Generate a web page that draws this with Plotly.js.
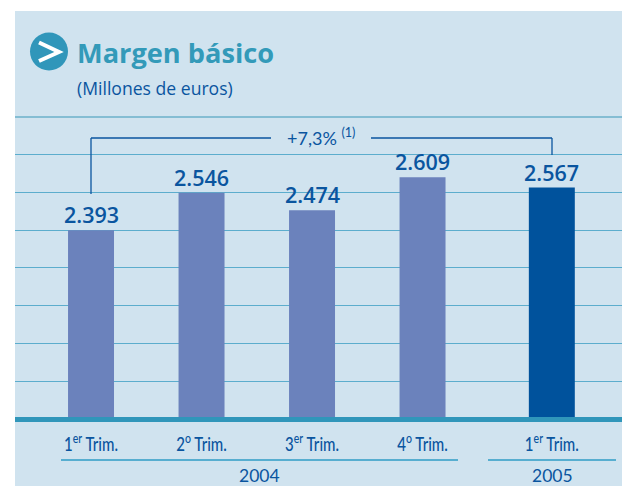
<!DOCTYPE html>
<html><head><meta charset="utf-8">
<script src="https://cdn.plot.ly/plotly-3.0.1.min.js"></script>
<style>html,body{margin:0;padding:0;background:#fff}#c{width:622px;height:486px}</style>
</head><body><div id="c"></div>
<script>
const categories = ["1<sup>er</sup> Trim.","2<sup>o</sup> Trim.","3<sup>er</sup> Trim.","4<sup>o</sup> Trim.","1<sup>er</sup> Trim."];
const values = [2393,2546,2474,2609,2567];
const valueLabels = ["2.393","2.546","2.474","2.609","2.567"];
const slots = [0,1,2,3,4.17];
const barColors = ["#6b82bc","#6b82bc","#6b82bc","#6b82bc","#00529c"];
const growth = "+7,3% <sup>(1)</sup>";
const title = "Margen básico", subtitle = "(Millones de euros)";
const years = ["2004","2005"];

const W=622,H=486,L=15,T=117,B=417;
const px=x=>(x-L)/(W-L), py=y=>(B-y)/(B-T);
const narrow='Lato,sans-serif';
const dark='#0a559f';
function seg(x0,y0,x1,y1,color,width){return {type:'line',xref:'paper',yref:'paper',x0:px(x0),y0:py(y0),x1:px(x1),y1:py(y1),line:{color,width}};}
function lab(x,y,text,size,color,family,anchor,extra){return Object.assign({xref:'paper',yref:'paper',x:px(x),y:py(y),text,showarrow:false,xanchor:anchor||'center',yanchor:'middle',font:{size,color,family}},extra||{});}

const shapes=[
 {type:'rect',layer:'below',xref:'paper',yref:'paper',x0:0,x1:1,y0:py(486),y1:py(11),fillcolor:'#d0e3ef',line:{width:0}},
 Object.assign(seg(15,117,622,117,'#84bdd3',2),{layer:'below'}),
 {type:'circle',xref:'paper',yref:'paper',x0:px(30),x1:px(68),y0:py(70.5),y1:py(32.5),fillcolor:'#3096ba',line:{width:0}},
 {type:'path',xref:'paper',yref:'paper',path:`M ${px(39)} ${py(42.5)} L ${px(59)} ${py(52)} L ${px(39)} ${py(61)}`,line:{color:'#fff',width:4},fillcolor:'rgba(0,0,0,0)'},
 seg(91,194,91,138,'#0a559f',1.3),seg(91,138,271,138,'#0a559f',1.3),
 seg(371,138,552,138,'#0a559f',1.3),seg(552,138,552,155,'#0a559f',1.3),
 seg(61,460,458,460,'#2f9cc6',1.3),seg(488,460,616,460,'#2f9cc6',1.3)
];
const annotations=[
 lab(75,52,title,27.2,'#339ab9','"Open Sans",sans-serif','left',{font:{size:27.2,color:'#339ab9',family:'"Open Sans",sans-serif',weight:700}}),
 lab(75,88,subtitle,17.6,dark,'"Open Sans",sans-serif','left'),
 lab(321,137,growth,18,dark,narrow),
 lab(259,475,years[0],17.5,dark,narrow),
 lab(552,475,years[1],17.5,dark,narrow)
].concat(values.map((v,i)=>({xref:'x',yref:'y',x:slots[i],y:v,text:valueLabels[i],showarrow:false,xanchor:'center',yanchor:'middle',yshift:15.5,
  font:{size:21.5,color:dark,family:'"Open Sans",sans-serif',weight:600}})));
Plotly.newPlot('c',[{type:'bar',x:slots,y:values,width:0.416,marker:{color:barColors,line:{width:0}},hoverinfo:'skip'}],
 {width:W,height:H,margin:{l:L,r:0,t:T,b:H-B},paper_bgcolor:'#fff',plot_bgcolor:'rgba(0,0,0,0)',showlegend:false,
  font:{family:narrow,color:dark},
  xaxis:{range:[-0.688,4.805],tickmode:'array',tickvals:slots,ticktext:categories,showgrid:false,zeroline:false,
    showline:true,linecolor:'#3096ba',linewidth:5,ticks:'',tickfont:{size:17.5,color:dark,family:narrow,weight:500},ticklabelstandoff:8},
  yaxis:{range:[1630,2855],tick0:2393,dtick:154.4,showgrid:true,gridcolor:'#5cadcd',gridwidth:1,zeroline:false,showticklabels:false,ticks:'',showline:false},
  shapes,annotations},{displayModeBar:false,staticPlot:true}).then(()=>{
   document.querySelectorAll('#c .xtick text').forEach(t=>{
     const x=+t.getAttribute('x')||0, y=+t.getAttribute('y')||0, p=t.getAttribute('transform')||'';
     t.setAttribute('transform',`${p} translate(${x},${y}) scale(.86,1.08) translate(${-x},${-y})`);
   });
 });
</script></body></html>
